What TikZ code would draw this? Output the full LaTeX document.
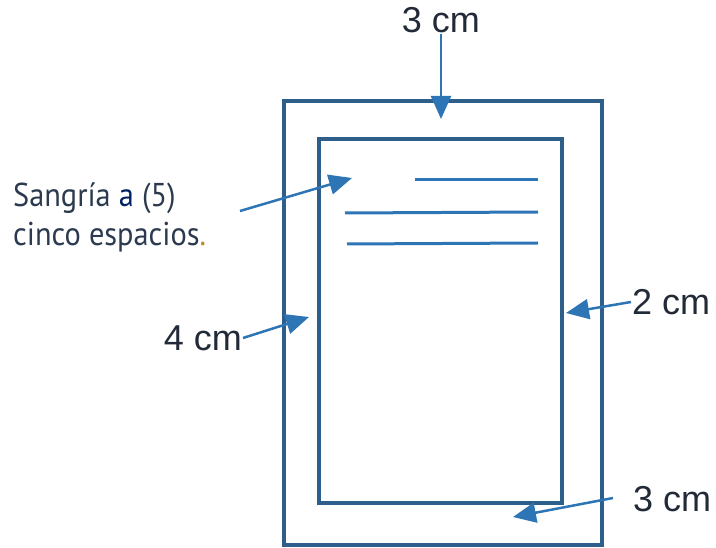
\documentclass[tikz,border=0pt]{standalone}
\usepackage{fontspec}
\setmainfont{Liberation Sans}
\newfontfamily\notefont[FakeStretch=0.92]{PT Sans}
\usetikzlibrary{arrows.meta}
\definecolor{framecol}{HTML}{2E5E8A}
\definecolor{arrowcol}{HTML}{2E75B6}
\definecolor{textcol}{HTML}{222A38}
\definecolor{notecol}{HTML}{2B3A4E}
\definecolor{navycol}{HTML}{002060}
\definecolor{goldcol}{HTML}{C0882A}

\begin{document}
\begin{tikzpicture}[x=1pt,y=-1pt,
			pagebox/.style={draw=framecol, line width=4pt, inner sep=0pt},
			textline/.style={draw=arrowcol, line width=3pt},
			pointer/.style={draw=arrowcol, line width=2.5pt, -{Triangle[width=20pt,length=23pt]}},
			sizelabel/.style={text=textcol, inner sep=1pt, font=\fontsize{36}{40}\selectfont},
			notelabel/.style={text=notecol, align=left, inner sep=0pt, font=\notefont\fontsize{33}{39}\selectfont}]
			\useasboundingbox (0,0) rectangle (716,548);
			% paper and margins
			\node[pagebox, minimum width=318pt, minimum height=444pt] (outer) at (443,323) {};
			\node[pagebox, minimum width=243pt, minimum height=364pt] (inner) at (440.5,321) {};
			% text lines
			\coordinate (l1a) at (415,180); \coordinate (l1b) at (538,180);
			\coordinate (l2a) at (345,213); \coordinate (l2b) at (538,212);
			\coordinate (l3a) at (347,244); \coordinate (l3b) at (538,243);
			\draw[textline] (l1a) -- (l1b);
			\draw[textline] (l2a) -- (l2b);
			\draw[textline] (l3a) -- (l3b);
			% labels
			\node[sizelabel] (top) at (441,20) {3 cm};
			\node[sizelabel, anchor=west] (right) at (631,302) {2 cm};
			\node[sizelabel, anchor=east] (left) at (243,338) {4 cm};
			\node[sizelabel, anchor=west] (bottom) at (632,499) {3 cm};
			\node[notelabel, anchor=north west] (note) at (13,183) {Sangría {\color{navycol}a} (5)\\cinco espacios{\color{goldcol}.}};
			% arrow tips
			\coordinate (ttop) at (441,119);
			\coordinate (tright) at (566,313);
			\coordinate (tleft) at (309,317);
			\coordinate (tbottom) at (513,517);
			\coordinate (tnote) at (352,178);
			\coordinate (snote) at (240,211);
			\draw[pointer] (top.south) -- (ttop);
			\draw[pointer] (right.west) -- (tright);
			\draw[pointer] (left.east) -- (tleft);
			\draw[pointer] (613,498) -- (tbottom);
			\draw[pointer] (snote) -- (tnote);
\end{tikzpicture}
\end{document}
